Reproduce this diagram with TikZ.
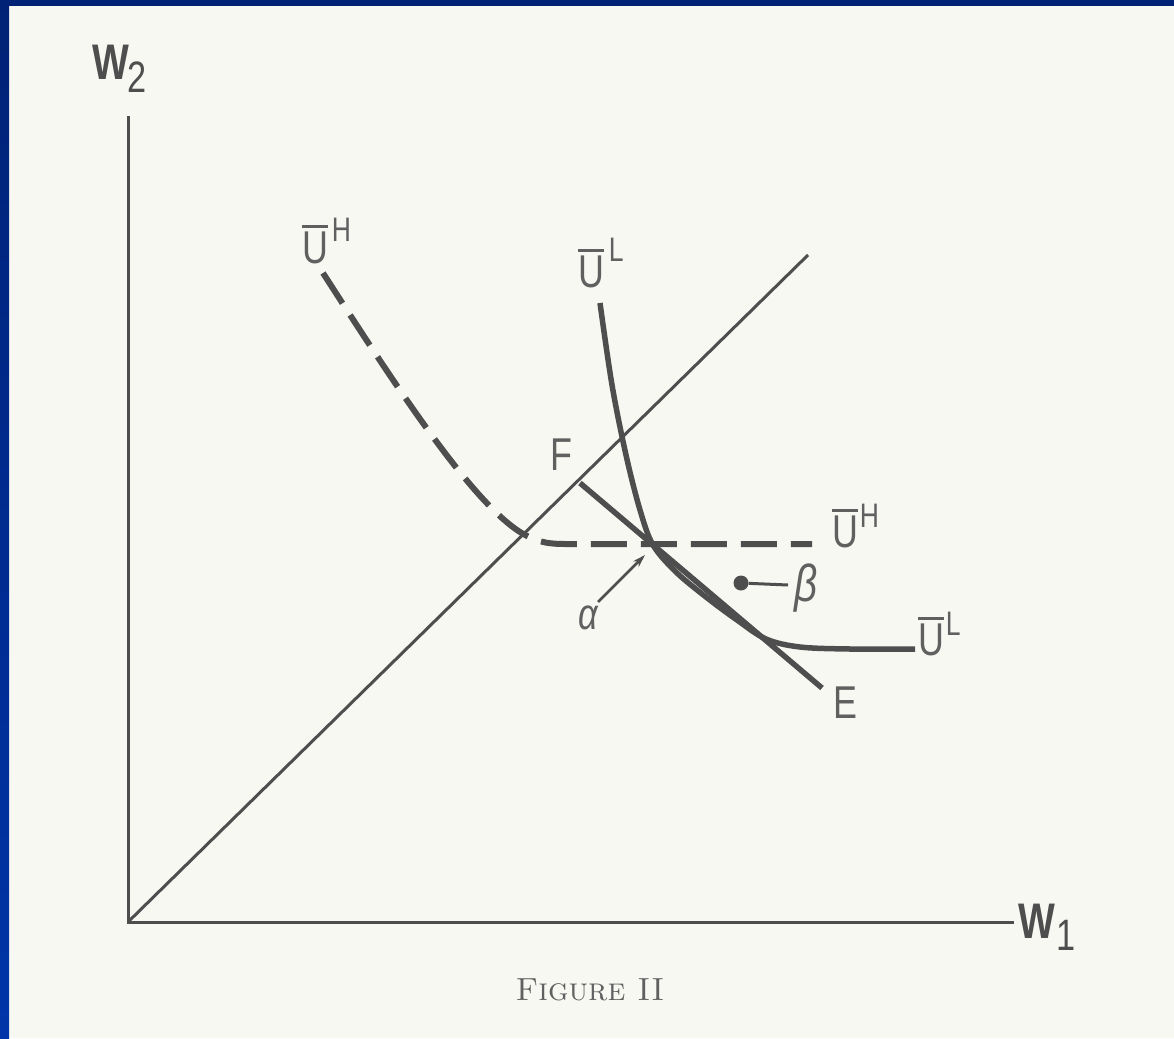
\documentclass[tikz,border=0pt]{standalone}
\usepackage{fontspec}
\newfontfamily\lab[FakeStretch=0.78]{Liberation Sans}
\usetikzlibrary{arrows.meta}
\definecolor{ink}{RGB}{78,78,78}
\definecolor{txt}{RGB}{96,96,96}
\definecolor{paper}{RGB}{248,248,242}
\definecolor{navy}{RGB}{0,34,118}
\definecolor{navyb}{RGB}{0,52,168}
\newcommand\Ubar{\vbox{\hrule height 3.5pt\kern 3pt\hbox{U}}}
\newcommand\supf[2]{\raisebox{#1}{\fontsize{34}{34}\selectfont #2}}
\begin{document}
\begin{tikzpicture}[x=1pt,y=-1pt,
  lbl/.style={inner sep=0pt, outer sep=0pt, text=txt, font=\lab\fontsize{46}{46}\selectfont, anchor=base west},
  axislbl/.style={inner sep=0pt, outer sep=0pt, text=ink, font=\lab\bfseries\fontsize{50}{50}\selectfont, anchor=base west},
  greek/.style={inner sep=0pt, outer sep=0pt, text=txt, font=\lab\itshape\fontsize{44}{44}\selectfont},
  axisline/.style={draw=ink, line width=3pt, line join=miter},
  diag/.style={draw=ink, line width=3pt},
  heavy/.style={draw=ink, line width=5.5pt},
  dashcurve/.style={draw=ink, line width=6pt, dash pattern=on 36pt off 14pt},
  pointer/.style={draw=ink, line width=2.5pt},
]
\useasboundingbox (0,0) rectangle (1174,1038);
\fill[paper] (0,0) rectangle (1174,1038);
\fill[navy] (0,0) rectangle (1174,6);
\shade[top color=navy, bottom color=navyb] (0,0) rectangle (9,1038);

% key points
\coordinate (O) at (128,922);
\coordinate (Ytop) at (128,116);
\coordinate (Xend) at (1014,922);
\coordinate (D) at (808,255);
\coordinate (F) at (580,483);
\coordinate (A) at (653,545);
\coordinate (Ept) at (822,688);

% axes and 45-degree line
\draw[axisline] (Ytop) -- (O) -- (Xend);
\draw[diag] (O) -- (D);

% U^H dashed indifference curve
\draw[dashcurve] (323,273) .. controls (395,385) and (470,500) .. (520,532)
  .. controls (535,541) and (545,544) .. (565,544) -- (812,544);

% U^L indifference curve
\draw[heavy] plot[smooth, tension=0.55] coordinates {(600,303) (612,385) (626,455) (640,510) (653,545) (676,572) (706,597) (737,620) (766,639) (800,647) (850,649) (915,649)};

% line FE
\draw[heavy] (F) -- (Ept);

% labels
\node[axislbl] (w2) at (92,80) {W\hspace{-1pt}\raisebox{-13pt}{\fontsize{44}{44}\selectfont\mdseries 2}};
\node[axislbl] (w1) at (1018,938) {W\hspace{2pt}\raisebox{-12pt}{\fontsize{44}{44}\selectfont\mdseries 1}};
\node[lbl] (uh1) at (302,263) {\Ubar\hspace{4pt}\supf{22pt}{H}};
\node[lbl] (uh2) at (832,547) {\Ubar\hspace{2pt}\supf{20pt}{H}};
\node[lbl] (ul1) at (578,287) {\Ubar\hspace{5pt}\supf{26pt}{L}};
\node[lbl] (ul2) at (918,655) {\Ubar\hspace{2pt}\supf{20pt}{L}};
\node[lbl] (fl) at (550,470) {F};
\node[lbl] (el) at (833,718) {E};

% alpha pointer
\node[greek] (al) at (588,618) {α};
\coordinate (aS) at (598,602);
\draw[pointer, -{Stealth[length=13pt,width=8pt]}] (aS) -- (645,555);

% beta point
\node[circle, fill=ink, inner sep=0pt, minimum size=15pt] (bdot) at (741,583) {};
\node[greek, font=\lab\itshape\fontsize{52}{52}\selectfont] (bl) at (806,588) {β};
\coordinate (bS) at (788,585);
\draw[pointer, line width=3pt] (bS) -- (bdot);

% caption
\node[inner sep=0pt, text=txt, font=\fontsize{32}{32}\selectfont\scshape] (cap) at (590,990) {Figure II};
\end{tikzpicture}
\end{document}
